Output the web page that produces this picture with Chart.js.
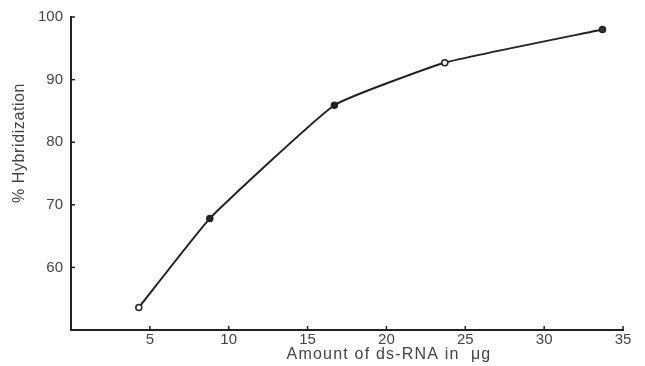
<!DOCTYPE html>
<html><head><meta charset="utf-8">
<script src="https://cdn.jsdelivr.net/npm/chart.js@4"></script>
<style>html,body{margin:0;padding:0;background:#fff;overflow:hidden}</style>
</head><body>
<canvas id="c" width="645" height="366"></canvas>
<script>
const amountUg = [4.3, 8.8, 16.7, 23.7, 33.7];
const hybridizationPct = [53.6, 67.8, 85.9, 92.7, 98.0];
const xTicks = [5, 10, 15, 20, 25, 30, 35];
const yTicks = [60, 70, 80, 90, 100];
const xTitle = 'Amount of ds-RNA in  μg';
const yTitle = '% Hybridization';

const FONT = '"Liberation Sans", Arial, sans-serif';
const TXT = '#444';
const INK = '#222';

const decor = {
  id: 'decor',
  afterDraw(chart) {
    const ctx = chart.ctx, xs = chart.scales.x, ys = chart.scales.y, a = chart.chartArea;
    ctx.save();
    ctx.strokeStyle = INK; ctx.lineWidth = 1.5;
    xTicks.forEach(v => { const px = xs.getPixelForValue(v); ctx.beginPath(); ctx.moveTo(px, a.bottom); ctx.lineTo(px, a.bottom - 4); ctx.stroke(); });
    yTicks.forEach(v => { const py = ys.getPixelForValue(v); ctx.beginPath(); ctx.moveTo(a.left, py); ctx.lineTo(a.left + 4, py); ctx.stroke(); });
    ctx.fillStyle = TXT;
    ctx.font = '16px ' + FONT;
    ctx.textAlign = 'center'; ctx.textBaseline = 'middle';
    ctx.letterSpacing = '1.2px';
    ctx.fillText(xTitle, 389, 355);
    ctx.letterSpacing = '0.6px';
    ctx.translate(20, 143); ctx.rotate(-Math.PI / 2);
    ctx.fillText(yTitle, 0, 0);
    ctx.restore();
  }
};

new Chart(document.getElementById('c'), {
  type: 'line',
  data: {
    datasets: [{
      data: amountUg.map((x, i) => ({ x, y: hybridizationPct[i] })),
      borderColor: INK, borderWidth: 2, tension: 0.12,
      pointRadius: 3, pointBorderWidth: 1.5, pointBorderColor: INK,
      pointBackgroundColor: ['#fff', INK, INK, '#fff', '#333'],
      fill: false
    }]
  },
  options: {
    responsive: false, animation: false, devicePixelRatio: 1,
    layout: { padding: { top: 14, right: 22, left: 0, bottom: 0 } },
    plugins: { legend: { display: false }, tooltip: { enabled: false } },
    scales: {
      x: {
        type: 'linear', min: 0, max: 35,
        afterBuildTicks: s => { s.ticks = xTicks.map(v => ({ value: v })); },
        afterFit: s => { s.height = 36; },
        grid: { display: true, drawOnChartArea: false, drawTicks: false },
        border: { display: true, color: INK, width: 2 },
        ticks: { color: TXT, font: { size: 15, family: FONT }, padding: 1, maxRotation: 0 }
      },
      y: {
        type: 'linear', min: 50, max: 100,
        afterBuildTicks: s => { s.ticks = yTicks.map(v => ({ value: v })); },
        afterFit: s => { s.width = 71; },
        grid: { display: true, drawOnChartArea: false, drawTicks: false },
        border: { display: true, color: INK, width: 2 },
        ticks: { color: TXT, font: { size: 15, family: FONT }, padding: 8 }
      }
    }
  },
  plugins: [decor]
});
</script>
</body></html>
